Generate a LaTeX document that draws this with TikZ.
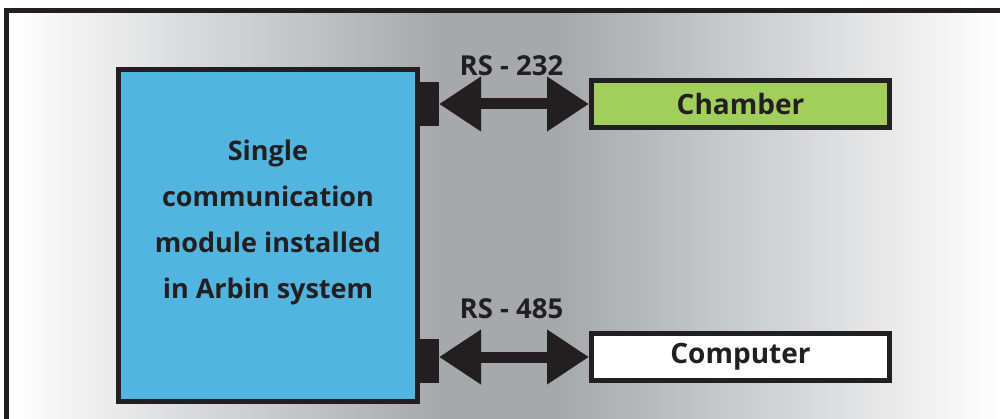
\documentclass[tikz,border=0pt]{standalone}
\usepackage{fontspec}
\setmainfont{Open Sans}
\usepackage{xcolor}
\usetikzlibrary{arrows.meta,positioning}

\definecolor{ink}{HTML}{231F20}
\definecolor{arbinblue}{RGB}{82,181,224}
\definecolor{chambergreen}{RGB}{162,207,92}
\definecolor{bggray}{RGB}{167,168,171}

\begin{document}
\begin{tikzpicture}[x=1pt,y=-1pt,
        box/.style={draw=ink, line width=5pt, inner sep=0pt,
                minimum width=298pt, minimum height=47pt,
                text=ink, font=\bfseries\fontsize{28}{34}\selectfont},
        port/.style={fill=ink, inner sep=0pt, outer sep=0pt,
                minimum width=19pt, minimum height=44pt},
        link/.style={draw=ink, line width=11pt,
                {Triangle[length=42pt,width=52pt]}-{Triangle[length=42pt,width=52pt]}},
        lbl/.style={anchor=base, text=ink, font=\bfseries\fontsize{27.5}{32}\selectfont}]
                \useasboundingbox (0,0) rectangle (1000,419);

                % backdrop and frame
                \shade[left color=white, right color=bggray] (9,13) rectangle (440,419);
                \fill[bggray] (440,13) rectangle (560,419);
                \shade[left color=bggray, right color=white] (560,13) rectangle (1000,419);
                \draw[ink, line width=5pt] (6.5,430) -- (6.5,10.5) -- (1010,10.5);

                \node [draw=ink, fill=arbinblue, line width=5pt,
                        minimum width=299pt, minimum height=332pt]
                                        (mod) at (268,235.5) {};
                \node [align=center, text=ink,
                        font=\bfseries\fontsize{27}{45.7}\selectfont]
                                        (modtxt) at ([yshift=13pt]mod.center)
                                        {Single\\communication\\module installed\\in Arbin system};

                \node [port] (p1) at (429.5,104) {};
                \node [port] (p2) at (429.5,361) {};

                \node [box, fill=chambergreen] (cham) at (740.5,104) {Chamber};
                \node [box, fill=white] (comp) at (740.5,357) {Computer};

                \draw [link] (p1.east) -- (cham.west);
                \draw [link] (p2.east |- comp.west) -- (comp.west);

                \node [lbl] (rs232) at (511.5,76) {RS - 232};
                \node [lbl] (rs485) at (511.5,318) {RS - 485};
            \end{tikzpicture}
\end{document}
